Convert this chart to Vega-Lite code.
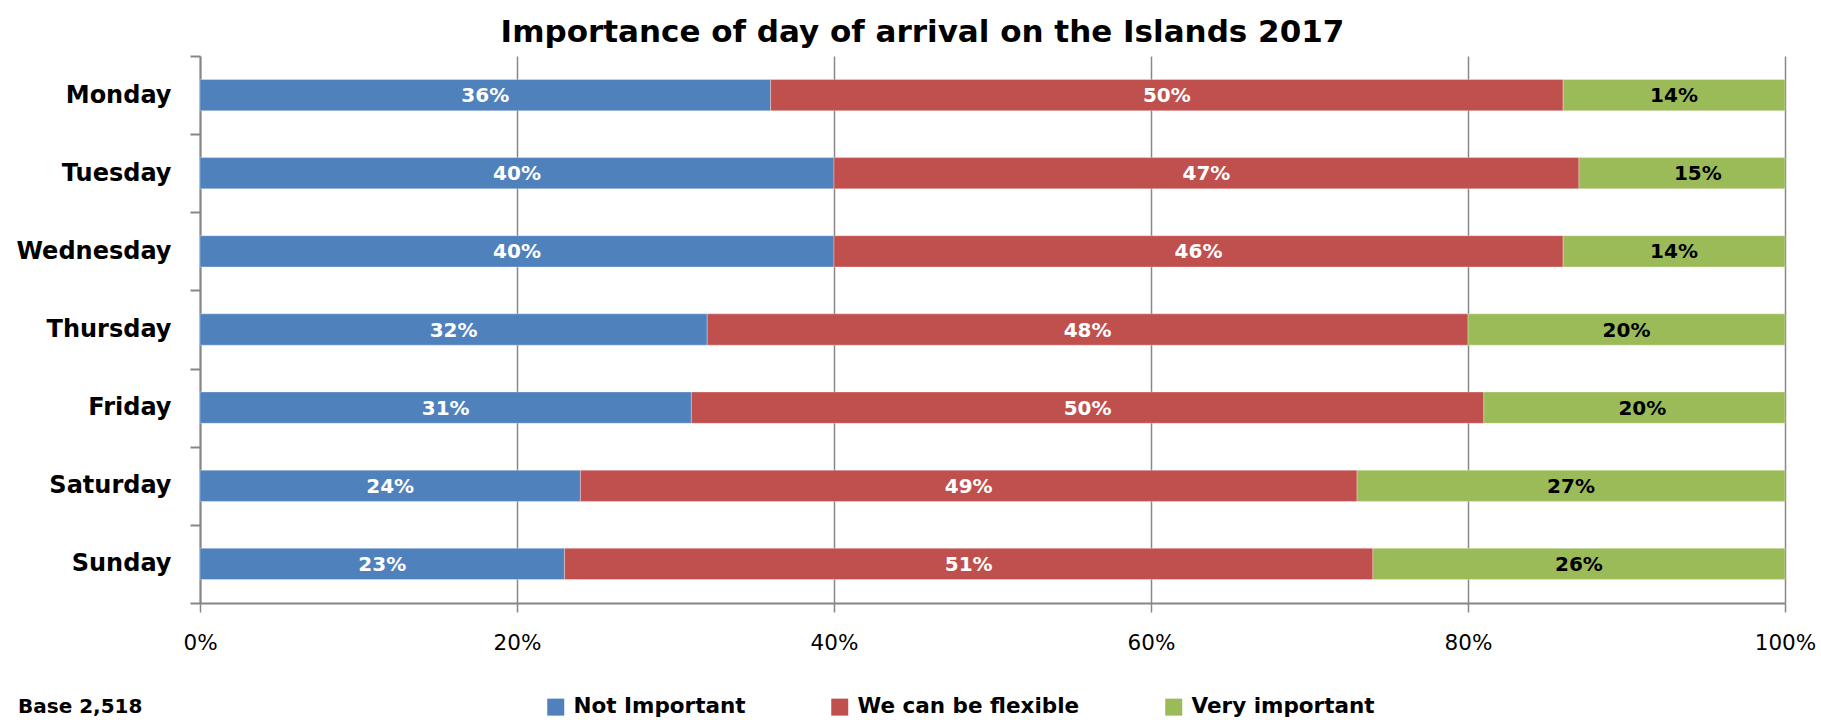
{
  "$schema": "https://vega.github.io/schema/vega-lite/v6.json",
  "width": 1585,
  "height": 547,
  "autosize": "none",
  "padding": {"left": 200, "top": 56, "right": 36, "bottom": 117},
  "background": "white",
  "title": {
    "text": "Importance of day of arrival on the Islands 2017",
    "font": "DejaVu Sans",
    "fontSize": 31,
    "fontWeight": "bold",
    "color": "black",
    "anchor": "middle",
    "frame": "group",
    "dx": -70,
    "offset": -5
  },
  "data": {
    "values": [
      {"day": "Monday", "category": "Not Important", "seg": 1, "value": 0.36},
      {"day": "Monday", "category": "We can be flexible", "seg": 2, "value": 0.50},
      {"day": "Monday", "category": "Very important", "seg": 3, "value": 0.14},
      {"day": "Tuesday", "category": "Not Important", "seg": 1, "value": 0.40},
      {"day": "Tuesday", "category": "We can be flexible", "seg": 2, "value": 0.47},
      {"day": "Tuesday", "category": "Very important", "seg": 3, "value": 0.15},
      {"day": "Wednesday", "category": "Not Important", "seg": 1, "value": 0.40},
      {"day": "Wednesday", "category": "We can be flexible", "seg": 2, "value": 0.46},
      {"day": "Wednesday", "category": "Very important", "seg": 3, "value": 0.14},
      {"day": "Thursday", "category": "Not Important", "seg": 1, "value": 0.32},
      {"day": "Thursday", "category": "We can be flexible", "seg": 2, "value": 0.48},
      {"day": "Thursday", "category": "Very important", "seg": 3, "value": 0.20},
      {"day": "Friday", "category": "Not Important", "seg": 1, "value": 0.31},
      {"day": "Friday", "category": "We can be flexible", "seg": 2, "value": 0.50},
      {"day": "Friday", "category": "Very important", "seg": 3, "value": 0.20},
      {"day": "Saturday", "category": "Not Important", "seg": 1, "value": 0.24},
      {"day": "Saturday", "category": "We can be flexible", "seg": 2, "value": 0.49},
      {"day": "Saturday", "category": "Very important", "seg": 3, "value": 0.27},
      {"day": "Sunday", "category": "Not Important", "seg": 1, "value": 0.23},
      {"day": "Sunday", "category": "We can be flexible", "seg": 2, "value": 0.51},
      {"day": "Sunday", "category": "Very important", "seg": 3, "value": 0.26}
    ]
  },
  "encoding": {
    "y": {
      "field": "day",
      "type": "nominal",
      "sort": ["Monday", "Tuesday", "Wednesday", "Thursday", "Friday", "Saturday", "Sunday"],
      "scale": {"paddingInner": 0, "paddingOuter": 0},
      "axis": {
        "title": null,
        "tickBand": "extent",
        "domainColor": "#868686",
        "domainWidth": 2,
        "tickColor": "#868686",
        "tickWidth": 2,
        "tickSize": 10,
        "labelFont": "DejaVu Sans",
        "labelFontSize": 24,
        "labelFontWeight": "bold",
        "labelColor": "black",
        "labelPadding": 19,
        "grid": false
      }
    }
  },
  "layer": [
    {
      "mark": {"type": "bar", "height": {"band": 0.4}, "stroke": "white", "strokeWidth": 0.6, "strokeOpacity": 0.5},
      "encoding": {
        "x": {
          "field": "value",
          "type": "quantitative",
          "stack": "zero",
          "scale": {"domain": [0, 1], "clamp": true, "nice": false},
          "axis": {
            "title": null,
            "format": ".0%",
            "values": [0, 0.2, 0.4, 0.6, 0.8, 1],
            "grid": true,
            "gridColor": "#888888",
            "gridWidth": 1.5,
            "domainColor": "#868686",
            "domainWidth": 2,
            "tickColor": "#868686",
            "tickWidth": 1.5,
            "tickSize": 9,
            "labelFont": "DejaVu Sans",
            "labelFontSize": 21.5,
            "labelColor": "black",
            "labelPadding": 20,
            "labelFlush": false
          }
        },
        "color": {
          "field": "category",
          "type": "nominal",
          "scale": {
            "domain": ["Not Important", "We can be flexible", "Very important"],
            "range": ["#4F81BD", "#C0504D", "#9BBB59"]
          },
          "legend": {
            "orient": "none",
            "direction": "horizontal",
            "legendX": -182,
            "legendY": 640,
            "title": "Base 2,518",
            "titleOrient": "left",
            "titlePadding": 402,
            "titleFont": "DejaVu Sans",
            "titleFontSize": 20,
            "titleFontWeight": "bold",
            "titleColor": "black",
            "symbolType": "square",
            "symbolSize": 289,
            "symbolStrokeWidth": 0,
            "labelFont": "DejaVu Sans",
            "labelFontSize": 21.5,
            "labelFontWeight": "bold",
            "labelColor": "black",
            "labelOffset": 7,
            "columnPadding": 83,
            "padding": 0,
            "labelLimit": 400
          }
        },
        "order": {"field": "seg", "type": "quantitative"}
      }
    },
    {
      "mark": {"type": "text", "font": "DejaVu Sans", "fontSize": 20, "fontWeight": "bold", "align": "center", "baseline": "middle", "dy": 1},
      "encoding": {
        "x": {"field": "value", "type": "quantitative", "stack": "zero", "bandPosition": 0.5},
        "detail": {"field": "category"},
        "order": {"field": "seg", "type": "quantitative"},
        "text": {"field": "value", "type": "quantitative", "format": ".0%"},
        "color": {
          "condition": {"test": "datum.category === 'Very important'", "value": "black"},
          "value": "white"
        }
      }
    }
  ],
  "config": {"view": {"stroke": null}}
}
